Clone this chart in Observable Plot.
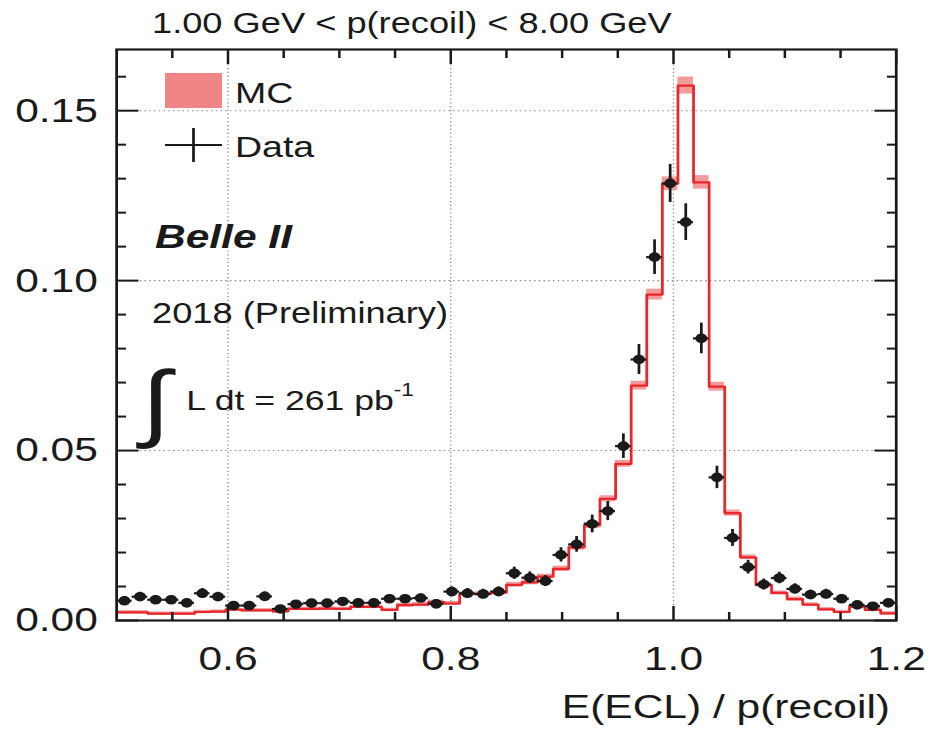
<!DOCTYPE html>
<html>
<head>
<meta charset="utf-8">
<script src="https://cdn.jsdelivr.net/npm/d3@7"></script>
<script src="https://cdn.jsdelivr.net/npm/@observablehq/plot@0.6"></script>
<style>
  html, body { margin: 0; padding: 0; background: #fff; overflow: hidden; }
  #chart svg { display: block; }
</style>
</head>
<body>
<div id="chart"></div>
<script>
// Histogram of E(ECL)/p(recoil): 50 bins of width 0.014 from 0.5 to 1.2
const binLow = 0.5;
const binWidth = 0.014;

// Normalised data yield per bin and its statistical uncertainty
const dataValues = [
  0.0058, 0.0070, 0.0061, 0.0061, 0.0052, 0.0080, 0.0070, 0.0044, 0.0044, 0.0071,
  0.0034, 0.0048, 0.0051, 0.0051, 0.0056, 0.0052, 0.0052, 0.0064, 0.0064, 0.0066,
  0.0049, 0.0085, 0.0080, 0.0078, 0.0085, 0.0139, 0.0126, 0.0116, 0.0193, 0.0224,
  0.0284, 0.0322, 0.0513, 0.0768, 0.1069, 0.1286, 0.1172, 0.0830, 0.0421, 0.0243,
  0.0157, 0.0106, 0.0125, 0.0093, 0.0076, 0.0078, 0.0064, 0.0046, 0.0042, 0.0052
];
const dataErrors = [
  0.0012, 0.0013, 0.0012, 0.0012, 0.0011, 0.0014, 0.0013, 0.0010, 0.0010, 0.0013,
  0.0009, 0.0011, 0.0011, 0.0011, 0.0011, 0.0011, 0.0011, 0.0012, 0.0012, 0.0012,
  0.0011, 0.0014, 0.0014, 0.0014, 0.0014, 0.0018, 0.0017, 0.0016, 0.0021, 0.0023,
  0.0026, 0.0028, 0.0036, 0.0044, 0.0051, 0.0056, 0.0054, 0.0045, 0.0033, 0.0025,
  0.0020, 0.0016, 0.0017, 0.0015, 0.0013, 0.0014, 0.0012, 0.0010, 0.0010, 0.0011
];

// Normalised MC prediction per bin and the half-width of its uncertainty band
const mcValues = [
  0.0024, 0.0024, 0.0020, 0.0020, 0.0020, 0.0025, 0.0026, 0.0032, 0.0030, 0.0030,
  0.0027, 0.0034, 0.0034, 0.0035, 0.0034, 0.0040, 0.0040, 0.0031, 0.0045, 0.0047,
  0.0054, 0.0050, 0.0078, 0.0078, 0.0082, 0.0105, 0.0112, 0.0129, 0.0152, 0.0215,
  0.0280, 0.0358, 0.0461, 0.0691, 0.0959, 0.1285, 0.1574, 0.1289, 0.0688, 0.0316,
  0.0186, 0.0105, 0.0081, 0.0063, 0.0047, 0.0033, 0.0025, 0.0041, 0.0031, 0.0021
];
const mcErrors = [
  0.0005, 0.0005, 0.0005, 0.0005, 0.0005, 0.0005, 0.0005, 0.0005, 0.0005, 0.0005,
  0.0005, 0.0005, 0.0005, 0.0005, 0.0005, 0.0005, 0.0005, 0.0005, 0.0006, 0.0006,
  0.0006, 0.0006, 0.0006, 0.0006, 0.0006, 0.0007, 0.0007, 0.0007, 0.0008, 0.0008,
  0.0009, 0.0009, 0.0010, 0.0013, 0.0016, 0.0020, 0.0025, 0.0020, 0.0013, 0.0009,
  0.0007, 0.0006, 0.0006, 0.0006, 0.0005, 0.0005, 0.0005, 0.0005, 0.0005, 0.0005
];

// Axis ticks
const xLabelTicks = [0.6, 0.8, 1.0, 1.2];
const xGridTicks = [0.6, 0.8, 1.0];
const xMinorTicks = [0.55, 0.65, 0.7, 0.75, 0.85, 0.9, 0.95, 1.05, 1.1, 1.15];
const yLabelTicks = [0.00, 0.05, 0.10, 0.15];
const yGridTicks = [0.05, 0.10, 0.15];
const yMinorTicks = [0.01, 0.02, 0.03, 0.04, 0.06, 0.07, 0.08, 0.09, 0.11, 0.12, 0.13, 0.14, 0.16];

// Table rows built from the arrays above
const bins = dataValues.map((v, i) => ({
  lo: binLow + i * binWidth,
  hi: binLow + (i + 1) * binWidth,
  mid: binLow + (i + 0.5) * binWidth,
  data: v,
  dataErr: dataErrors[i],
  mc: mcValues[i],
  mcErr: mcErrors[i]
}));
// Step outline of the MC histogram: one vertex per left bin edge plus the closing edge
const mcSteps = bins.map(b => ({x: b.lo, y: b.mc}))
  .concat([{x: bins[bins.length - 1].hi, y: bins[bins.length - 1].mc}]);

// The page is drawn on a narrower canvas and widened horizontally
const PAGE_W = 933, PAGE_H = 745, WIDEN = 1.25;
const W = PAGE_W / WIDEN;

const ink = "#1a1a1a";
const font = "'Liberation Sans', Arial, Helvetica, sans-serif";
const gridStyle = {stroke: "#8a8a8a", strokeOpacity: 1, strokeWidth: 1.1, strokeDasharray: "1.2,2.6"};

const chart = Plot.plot({
  width: W,
  height: PAGE_H,
  marginLeft: 92.8,
  marginRight: 29.9,
  marginTop: 49,
  marginBottom: 125,
  x: {domain: [0.5, 1.2]},
  y: {domain: [0, 0.168]},
  style: {fontFamily: font, fontSize: "34px", color: ink, background: "#fff", overflow: "visible"},
  marks: [
    Plot.gridX(xGridTicks, gridStyle),
    Plot.gridY(yGridTicks, gridStyle),
    // MC uncertainty band and step outline
    Plot.rectY(bins, {x1: "lo", x2: "hi", y1: d => d.mc - d.mcErr, y2: d => d.mc + d.mcErr, fill: "#f39b9b"}),
    Plot.line(mcSteps, {x: "x", y: "y", curve: "step-after", stroke: "#e9262b", strokeWidth: 2.2}),
    // Data points with error bars
    Plot.ruleX(bins, {x: "mid", y1: d => d.data - d.dataErr, y2: d => d.data + d.dataErr, stroke: ink, strokeWidth: 2.2}),
    Plot.ruleY(bins, {y: "data", x1: "lo", x2: "hi", stroke: ink, strokeWidth: 2.2}),
    Plot.dot(bins, {x: "mid", y: "data", r: 4.8, fill: ink, stroke: "none"}),
    // Inward ticks on all four sides
    Plot.axisX(xMinorTicks, {anchor: "bottom", tickSize: -8, fill: "none", strokeWidth: 2}),
    Plot.axisX(xLabelTicks, {anchor: "bottom", tickSize: -14, fill: "none", strokeWidth: 2}),
    Plot.axisX(xMinorTicks, {anchor: "top", tickSize: -8, fill: "none", strokeWidth: 2}),
    Plot.axisX(xLabelTicks, {anchor: "top", tickSize: -14, fill: "none", strokeWidth: 2}),
    Plot.axisY(yMinorTicks, {anchor: "left", tickSize: -8, fill: "none", strokeWidth: 2}),
    Plot.axisY(yLabelTicks, {anchor: "left", tickSize: -18, fill: "none", strokeWidth: 2}),
    Plot.axisY(yMinorTicks, {anchor: "right", tickSize: -8, fill: "none", strokeWidth: 2}),
    Plot.axisY(yLabelTicks, {anchor: "right", tickSize: -18, fill: "none", strokeWidth: 2}),
    // Tick labels
    Plot.axisX(xLabelTicks, {anchor: "bottom", tickSize: 0, tickPadding: 25, tickFormat: d3.format(".1f"), label: null}),
    Plot.axisY(yLabelTicks, {anchor: "left", tickSize: 0, tickPadding: 15, tickFormat: d3.format(".2f"), label: null}),
    Plot.frame({stroke: ink, strokeWidth: 2.2})
  ]
});

// Widen the drawing to the page width
chart.setAttribute("width", PAGE_W);
chart.setAttribute("height", PAGE_H);
chart.setAttribute("viewBox", `0 0 ${W} ${PAGE_H}`);
chart.setAttribute("preserveAspectRatio", "none");
chart.style.maxWidth = "none";

// Title, axis title, legend and experiment labels
const svg = d3.select(chart);
const notes = svg.append("g").attr("font-family", font).attr("fill", ink).attr("text-anchor", "start");

notes.append("text").attr("x", 121.6).attr("y", 33).attr("font-size", 29)
  .text("1.00 GeV < p(recoil) < 8.00 GeV");

notes.append("text").attr("x", 712).attr("y", 718).attr("font-size", 34).attr("text-anchor", "end")
  .text("E(ECL) / p(recoil)");

notes.append("rect").attr("x", 132).attr("y", 73).attr("width", 45.6).attr("height", 35).attr("fill", "#f08585");
notes.append("text").attr("x", 188).attr("y", 103).attr("font-size", 30).text("MC");

notes.append("line").attr("x1", 132).attr("x2", 177.6).attr("y1", 145).attr("y2", 145)
  .attr("stroke", ink).attr("stroke-width", 2.2);
notes.append("line").attr("x1", 154.8).attr("x2", 154.8).attr("y1", 128).attr("y2", 162)
  .attr("stroke", ink).attr("stroke-width", 2.2);
notes.append("text").attr("x", 188).attr("y", 157).attr("font-size", 30).text("Data");

notes.append("text").attr("x", 124).attr("y", 248).attr("font-size", 34)
  .attr("font-weight", "bold").attr("font-style", "italic").text("Belle II");

notes.append("text").attr("x", 121.6).attr("y", 323).attr("font-size", 29).text("2018 (Preliminary)");

notes.append("text").attr("x", 113).attr("y", 431).attr("font-size", 85).text("\u222B");
const lumi = notes.append("text").attr("x", 149).attr("y", 410).attr("font-size", 28.5);
lumi.append("tspan").text("L dt = 261 pb");
lumi.append("tspan").attr("font-size", 18).attr("dy", -14).text("-1");

document.getElementById("chart").appendChild(chart);
</script>
</body>
</html>
